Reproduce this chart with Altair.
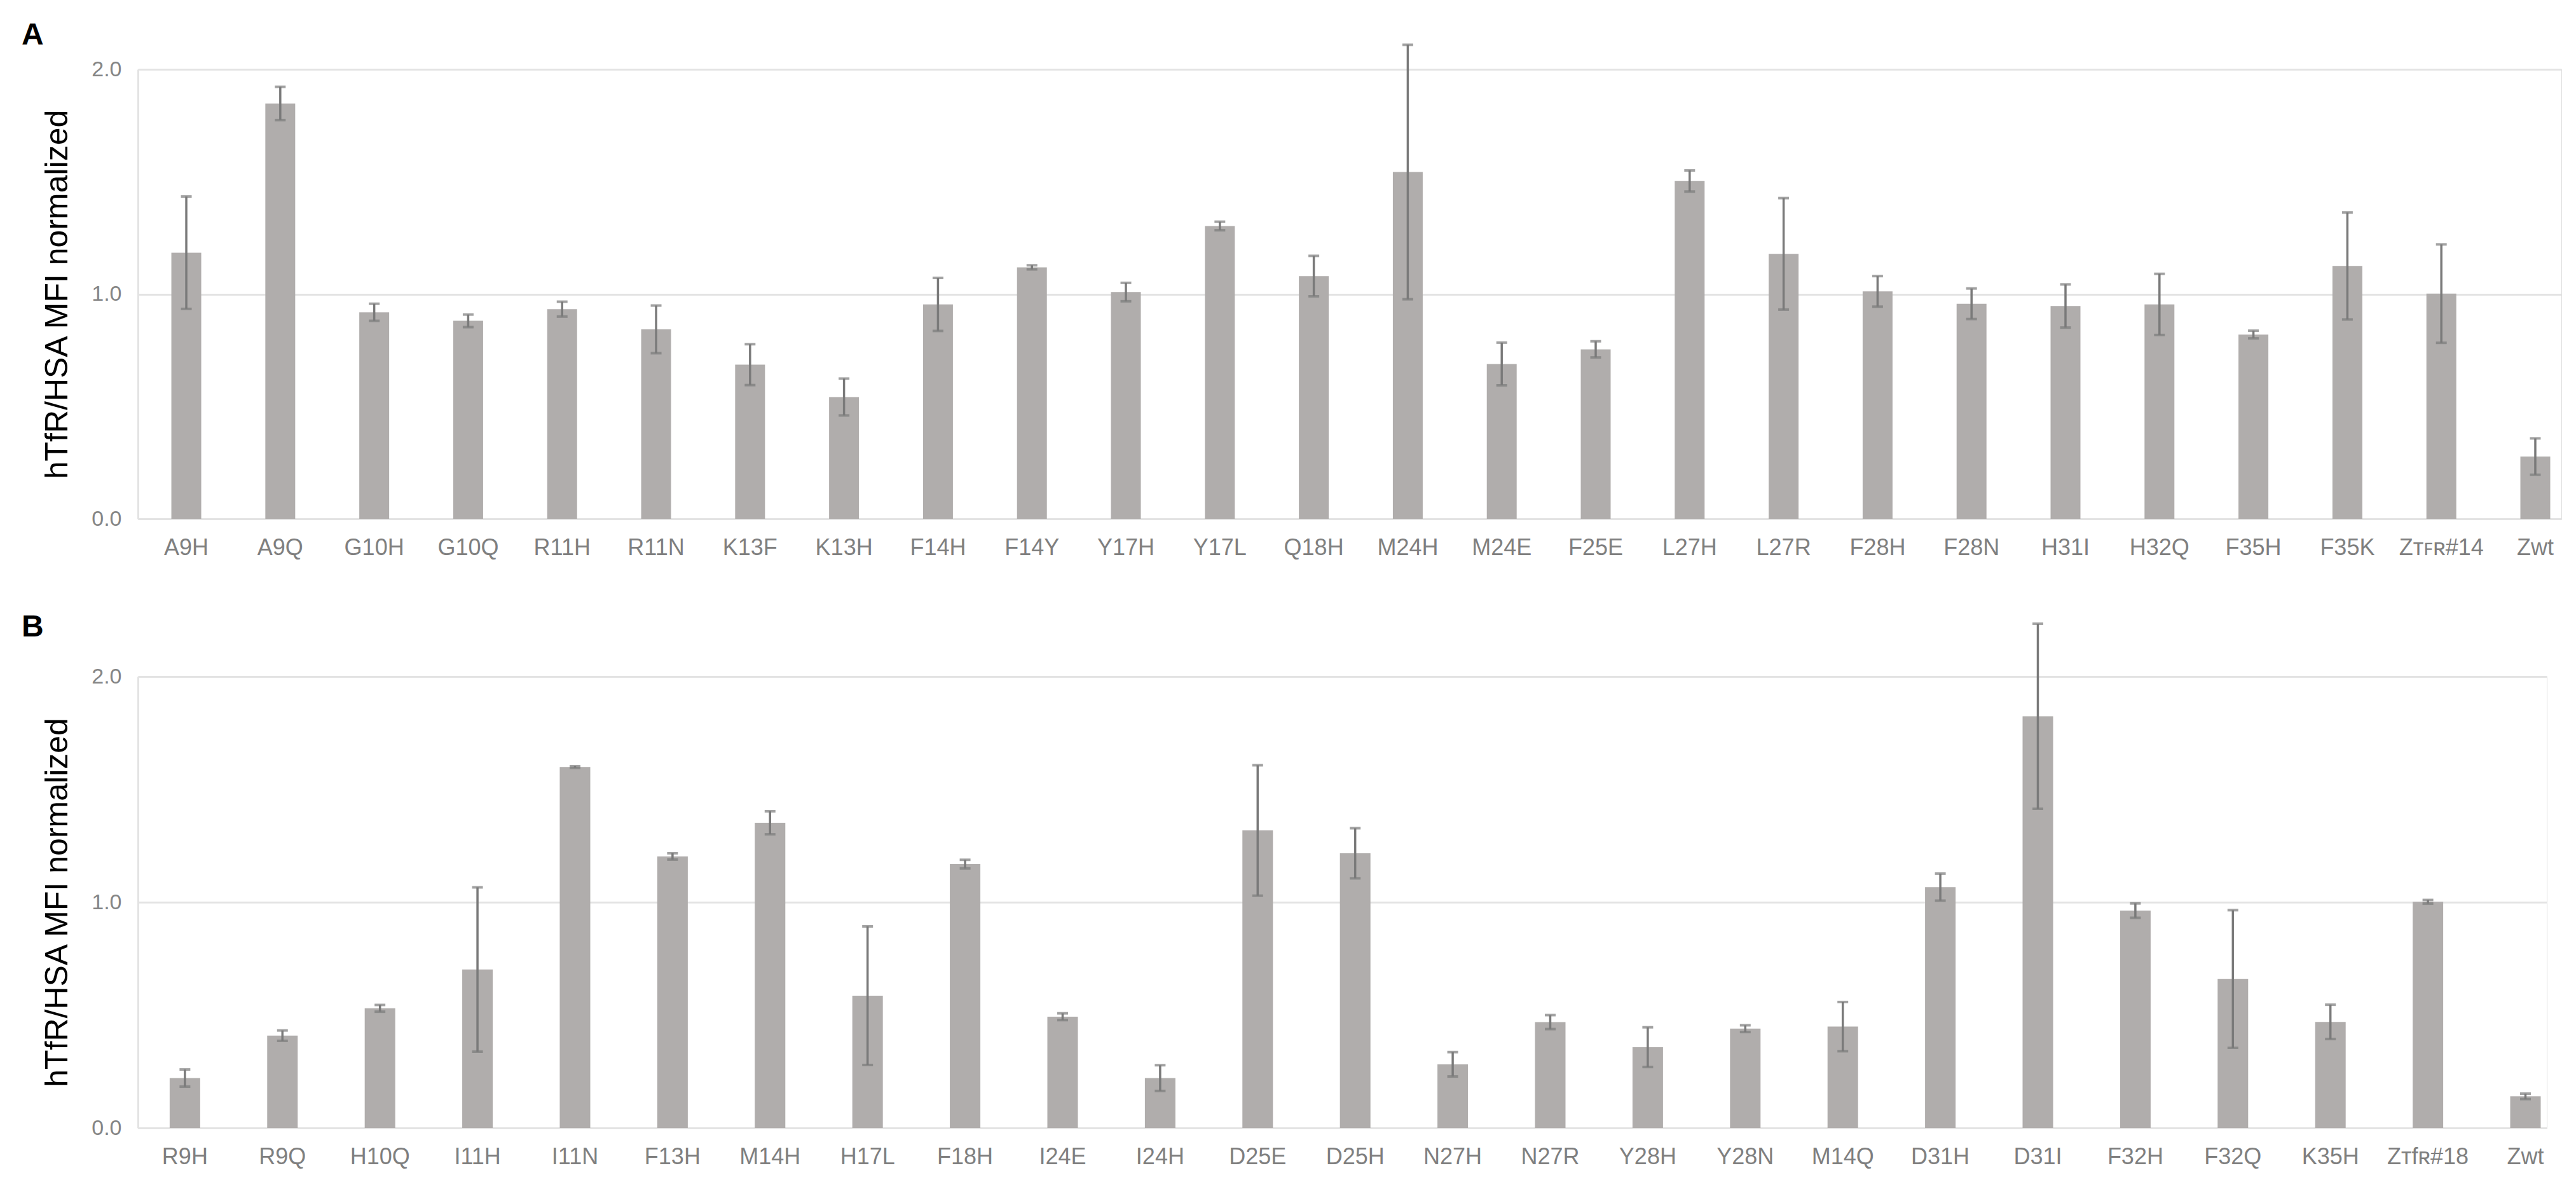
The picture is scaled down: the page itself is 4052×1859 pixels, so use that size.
import altair as alt
import pandas as pd

# ---------------- data ----------------
cats_a = ["A9H", "A9Q", "G10H", "G10Q", "R11H", "R11N", "K13F", "K13H", "F14H",
          "F14Y", "Y17H", "Y17L", "Q18H", "M24H", "M24E", "F25E", "L27H", "L27R",
          "F28H", "F28N", "H31I", "H32Q", "F35H", "F35K", "Z\u1d1b\ua730\u0280#14", "Zwt"]
vals_a = [1.184, 1.848, 0.919, 0.881, 0.933, 0.843, 0.686, 0.542, 0.954,
          1.119, 1.009, 1.303, 1.080, 1.543, 0.689, 0.754, 1.503, 1.179,
          1.012, 0.957, 0.947, 0.954, 0.820, 1.125, 1.002, 0.277]
errs_a = [0.250, 0.074, 0.038, 0.028, 0.033, 0.106, 0.091, 0.082, 0.118,
          0.009, 0.041, 0.019, 0.090, 0.566, 0.095, 0.036, 0.047, 0.248,
          0.068, 0.068, 0.096, 0.136, 0.017, 0.238, 0.219, 0.081]

cats_b = ["R9H", "R9Q", "H10Q", "I11H", "I11N", "F13H", "M14H", "H17L", "F18H",
          "I24E", "I24H", "D25E", "D25H", "N27H", "N27R", "Y28H", "Y28N", "M14Q",
          "D31H", "D31I", "F32H", "F32Q", "K35H", "Z\u1d1bf\u0280#18", "Zwt"]
vals_b = [0.221, 0.409, 0.530, 0.702, 1.599, 1.203, 1.352, 0.586, 1.169,
          0.493, 0.221, 1.318, 1.217, 0.282, 0.469, 0.358, 0.440, 0.449,
          1.067, 1.824, 0.963, 0.660, 0.470, 1.002, 0.140]
errs_b = [0.038, 0.023, 0.015, 0.364, 0.004, 0.014, 0.051, 0.307, 0.019,
          0.015, 0.057, 0.289, 0.111, 0.054, 0.031, 0.088, 0.015, 0.109,
          0.060, 0.410, 0.032, 0.305, 0.076, 0.008, 0.012]

panel_letters = ["A", "B"]
y_ticks = [0, 1, 2]
y_title = "hTfR/HSA MFI normalized"

# ---------------- style ----------------
FONT = "Liberation Sans"
BAR = "#B0ADAC"
ERR = "#7A7A7A"
GRID = "#E3E3E3"


def panel(letter, letter_y, cats, vals, errs, width, height, p_inner, p_outer, align):
    df = pd.DataFrame({"cat": cats, "val": vals, "err": errs})
    xenc = alt.X("cat:N", sort=cats, title=None,
                 scale=alt.Scale(paddingInner=p_inner, paddingOuter=p_outer,
                                 align=align, round=False),
                 axis=alt.Axis(labelAngle=0, ticks=False, labelOverlap=False,
                               labelFontSize=36, labelColor="#7F7F7F",
                               labelFont=FONT, labelPadding=28,
                               domainColor=GRID, domainWidth=3))
    yscale = alt.Scale(domain=[0, 2], nice=False)
    yaxis = alt.Axis(values=y_ticks, format=".1f", ticks=False, grid=True,
                     gridColor=GRID, gridWidth=3, domainColor=GRID, domainWidth=3,
                     labelFontSize=34, labelColor="#858585", labelFont=FONT,
                     labelPadding=26, title=y_title, titleFont=FONT,
                     titleFontSize=50, titleFontWeight="normal",
                     titleColor="#000000", titlePadding=28)
    base = alt.Chart(df).transform_calculate(
        lo="datum.val - datum.err", hi="datum.val + datum.err")
    bars = base.mark_bar(color=BAR).encode(
        x=xenc, y=alt.Y("val:Q", scale=yscale, axis=yaxis))
    rule = base.mark_rule(color=ERR, strokeWidth=3.5).encode(
        x=alt.X("cat:N", sort=cats), y="lo:Q", y2="hi:Q")
    cap_lo = base.mark_tick(color=ERR, size=17, thickness=4).encode(
        x=alt.X("cat:N", sort=cats), y="lo:Q")
    cap_hi = base.mark_tick(color=ERR, size=17, thickness=4).encode(
        x=alt.X("cat:N", sort=cats), y="hi:Q")
    lab = alt.Chart(pd.DataFrame({"t": [letter]})).mark_text(
        font=FONT, fontSize=48, fontWeight="bold", color="#000000",
        align="left", baseline="alphabetic"
    ).encode(text="t:N", x=alt.value(-183), y=alt.value(letter_y))
    return alt.layer(bars, rule, cap_lo, cap_hi, lab).properties(
        width=width, height=height)


chart_a = panel(panel_letters[0], -39, cats_a, vals_a, errs_a, 3812, 707, 0.682, 0.237, 0.75)
chart_b = panel(panel_letters[1], -63, cats_b, vals_b, errs_b, 3789, 710, 0.687, 0.1935, 0.84)

chart = alt.vconcat(chart_a, chart_b, spacing=82).properties(
    padding={"left": 25, "top": 23, "right": 0, "bottom": 0}
).configure_view(stroke=None).configure(background="white")

chart.save("out.html", embed_options={"renderer": "svg", "actions": False})
